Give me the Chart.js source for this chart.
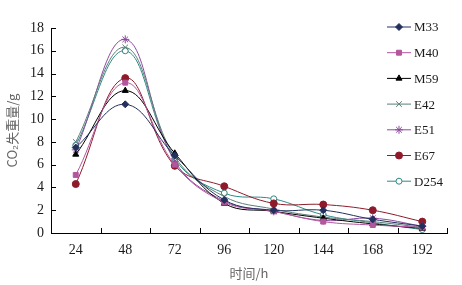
<!DOCTYPE html>
<html>
<head>
<meta charset="utf-8">
<script src="https://cdn.jsdelivr.net/npm/chart.js"></script>
<style>
  body { margin: 0; background: #fff; }
  #box { width: 462px; height: 285px; }
</style>
</head>
<body>
<div id="box"><canvas id="co2Chart"></canvas></div>
<script>
// 时间 (h)
const hours = ['24', '48', '72', '96', '120', '144', '168', '192'];
const yTicks = [0, 2, 4, 6, 8, 10, 12, 14, 16, 18];

// CO2 失重量 (g)
const M33  = [7.5, 11.3, 6.8, 2.9, 2.0, 2.0, 1.2, 0.6];
const M40  = [5.1, 13.2, 6.0, 2.7, 1.9, 1.0, 0.7, 0.5];
const M59  = [6.9, 12.5, 7.0, 2.6, 1.9, 1.3, 0.8, 0.4];
const E42  = [8.0, 16.3, 6.7, 3.2, 2.1, 1.4, 1.0, 0.5];
const E51  = [7.3, 17.0, 6.3, 2.8, 1.9, 1.1, 1.3, 0.6];
const E67  = [4.3, 13.6, 5.9, 4.1, 2.6, 2.5, 2.0, 1.0];
const D254 = [7.7, 16.0, 6.5, 3.5, 3.0, 1.6, 0.9, 0.3];

const serif = "'Liberation Serif', 'Times New Roman', serif";

function series(label, data, color, style, fill, radius) {
  return {
    label: label,
    data: data,
    borderColor: color,
    backgroundColor: fill,
    pointBorderColor: color,
    pointBackgroundColor: fill,
    pointStyle: style,
    pointRadius: radius,
    pointBorderWidth: 1,
    borderWidth: 1,
    tension: 0.4,
    fill: false
  };
}

// tick marks pointing into the plot, like the original figure
const innerTicks = {
  id: 'innerTicks',
  afterDraw(chart) {
    const ctx = chart.ctx;
    const xs = chart.scales.x, ys = chart.scales.y;
    const bottom = chart.chartArea.bottom, left = chart.chartArea.left;
    ctx.save();
    ctx.strokeStyle = '#000';
    ctx.lineWidth = 1;
    ctx.beginPath();
    for (let i = 0; i < hours.length; i++) {
      const x = Math.round(xs.getPixelForValue(i + 0.5)) + 0.5;
      ctx.moveTo(x, bottom);
      ctx.lineTo(x, bottom - 5);
    }
    yTicks.forEach(v => {
      const y = Math.round(ys.getPixelForValue(v)) + 0.5;
      ctx.moveTo(left, y);
      ctx.lineTo(left + 5, y);
    });
    ctx.stroke();
    ctx.restore();
  }
};

// legend drawn inside the plot, one column at the right
const sideLegend = {
  id: 'sideLegend',
  afterDraw(chart) {
    const ctx = chart.ctx;
    const x0 = 387, x1 = 411, top = 27, step = 25.7;
    ctx.save();
    chart.data.datasets.forEach((ds, i) => {
      const y = top + i * step;
      ctx.strokeStyle = ds.borderColor;
      ctx.lineWidth = 1;
      ctx.beginPath();
      ctx.moveTo(x0, y);
      ctx.lineTo(x1, y);
      ctx.stroke();
      ctx.fillStyle = ds.pointBackgroundColor;
      ctx.strokeStyle = ds.pointBorderColor;
      Chart.helpers.drawPoint(ctx, {
        pointStyle: ds.pointStyle,
        radius: ds.pointRadius,
        rotation: 0,
        borderWidth: 1
      }, (x0 + x1) / 2, y);
      ctx.fillStyle = '#1a1a1a';
      ctx.font = '13px ' + serif;
      ctx.textBaseline = 'middle';
      ctx.textAlign = 'left';
      ctx.fillText(ds.label, x1 + 3, y + 1);
    });
    ctx.restore();
  }
};

const context = document.getElementById('co2Chart').getContext('2d');
const co2Chart = new Chart(context, {
  type: 'line',
  data: {
    labels: hours,
    datasets: [
      series('M33', M33, '#23305e', 'rectRot', '#23305e', 3.5),
      series('M40', M40, '#b3569e', 'rect', '#b3569e', 3.5),
      series('M59', M59, '#000000', 'triangle', '#000000', 3.5),
      series('E42', E42, '#5a7f78', 'crossRot', '#5a7f78', 4),
      series('E51', E51, '#8b4a9c', 'star', '#8b4a9c', 4),
      series('E67', E67, '#8e1b2b', 'circle', '#8e1b2b', 3.5),
      series('D254', D254, '#2f8a84', 'circle', '#ffffff', 3)
    ]
  },
  options: {
    responsive: true,
    maintainAspectRatio: false,
    animation: false,
    layout: { padding: { left: 0, right: 15, top: 28, bottom: 0 } },
    plugins: {
      legend: { display: false },
      tooltip: { enabled: false }
    },
    scales: {
      x: {
        offset: true,
        grid: { offset: true, drawOnChartArea: false, drawTicks: false },
        border: { color: '#000', width: 1 },
        ticks: { color: '#1a1a1a', font: { family: serif, size: 14 }, padding: 9, maxRotation: 0 },
        title: {
          display: true,
          text: '时间/h',
          color: '#666',
          font: { family: "'Noto Sans CJK SC', sans-serif", size: 13 },
          padding: { top: 4 }
        },
        afterFit(scale) { scale.height = 52; }
      },
      y: {
        min: 0,
        max: 18,
        afterBuildTicks(scale) { scale.ticks = yTicks.map(v => ({ value: v })); },
        grid: { drawOnChartArea: false, drawTicks: false },
        border: { color: '#000', width: 1 },
        ticks: { color: '#1a1a1a', font: { family: serif, size: 14 }, padding: 7 },
        title: {
          display: true,
          text: 'CO₂失重量/g',
          color: '#666',
          font: { family: "'Noto Sans CJK SC', sans-serif", size: 13 },
          padding: { bottom: 2 }
        },
        afterFit(scale) { scale.width = 51; }
      }
    }
  },
  plugins: [innerTicks, sideLegend]
});
</script>
</body>
</html>
